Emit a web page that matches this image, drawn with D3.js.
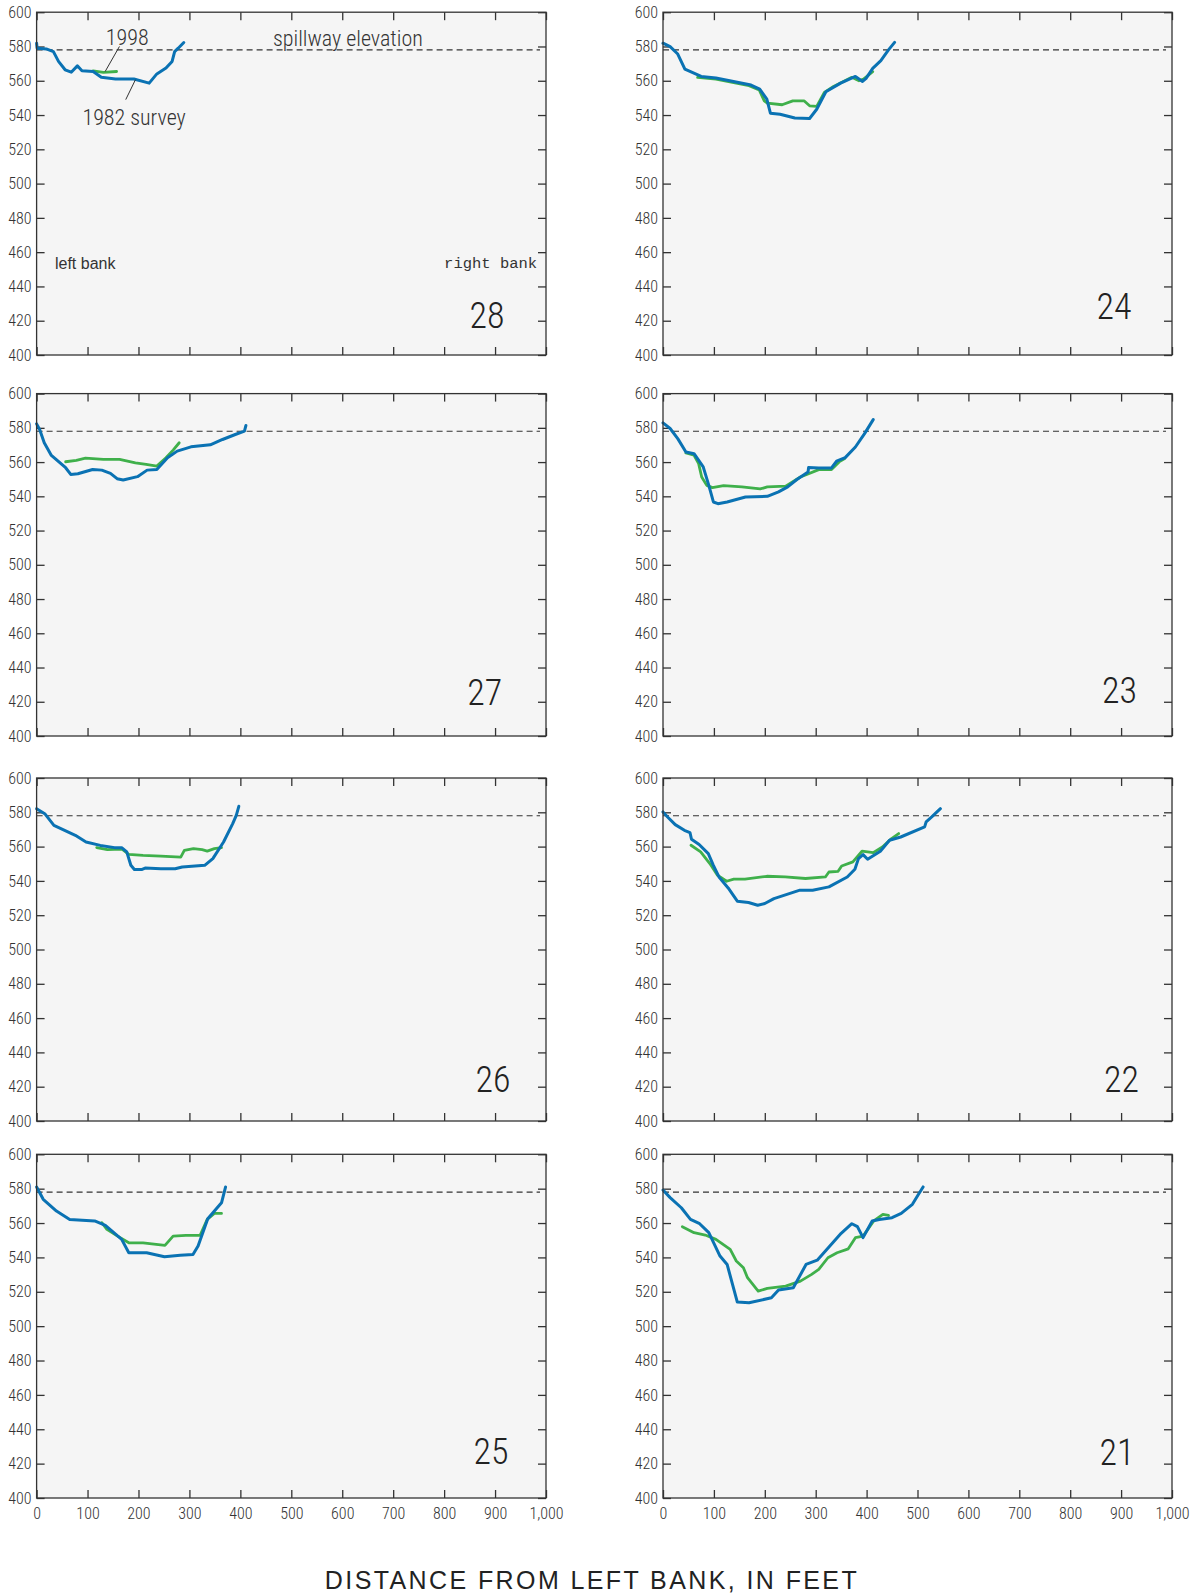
<!DOCTYPE html>
<html>
<head>
<meta charset="utf-8">
<script src="https://cdn.jsdelivr.net/npm/d3@7"></script>
<style>
  html, body { margin: 0; padding: 0; background: #ffffff; }
  svg { display: block; }
</style>
</head>
<body>
<svg id="chart" width="1195" height="1595"></svg>
<script>
// ---------------- DATA ----------------
const sectionIds = ["28", "24", "27", "23", "26", "22", "25", "21"];
const xTicks = [0, 100, 200, 300, 400, 500, 600, 700, 800, 900, 1000];
const yTicks = [400, 420, 440, 460, 480, 500, 520, 540, 560, 580, 600];
const spillwayElevation = 578;
const seriesNames = ["1982 survey", "1998"];

// [distance from left bank (ft), elevation (ft)]
const s28_1982 = [[0,581.9],[1,579],[19,578.6],[33,577],[43,571.3],[56,566.4],[68,565],[80,568.7],[89,565.8],[111,565.4],[127,562],[155,561],[191,561],[221,558.6],[236,564],[254,567.4],[266,571.3],[271,577],[278,579],[289,582.3]];
const s28_1998 = [[111,565.8],[131,564.9],[157,565.4]];

const s24_1982 = [[0,581.9],[14,579.9],[29,575.6],[43,566.8],[75,562.5],[104,561.6],[173,557.5],[190,555.1],[204,549.3],[211,541.1],[230,540.5],[259,538.3],[288,538],[302,543.4],[320,553.6],[349,558.6],[378,562.5],[392,559.6],[399,561.4],[412,567.2],[428,571.7],[443,578],[455,582.4]];
const s24_1998 = [[68,562],[104,561],[169,557.1],[189,554.7],[199,548.3],[205,546.9],[234,546],[255,548.3],[277,548.3],[288,545.4],[302,545],[317,553.2],[335,556.7],[371,562],[385,560],[394,561],[412,565.3]];

const s27_1982 = [[0,582.3],[6,579],[15,571.3],[29,563.9],[57,556.7],[67,552.8],[81,553.2],[110,555.7],[128,555.3],[145,553.4],[158,550.3],[170,549.5],[198,551.5],[217,555.3],[236,555.7],[257,562.5],[276,566.4],[303,568.9],[341,570.1],[365,573.2],[390,576.1],[408,578.1],[411,581.4]];
const s27_1998 = [[57,560.2],[78,561],[96,562.3],[131,561.6],[163,561.6],[194,559.6],[215,558.6],[236,557.7],[254,562.5],[268,567],[280,571.3]];

const s23_1982 = [[0,582.9],[14,579.6],[29,573.7],[45,565.9],[61,564.9],[79,557.2],[90,546.4],[99,536.7],[108,535.7],[126,536.7],[162,539.6],[205,540],[227,542.6],[245,545.5],[263,549.8],[285,554.2],[286,556.8],[306,556.6],[331,556.6],[341,560.5],[358,562.6],[378,568.8],[396,576.6],[413,584.8]];
const s23_1998 = [[45,565.3],[61,564],[70,559.1],[76,551.3],[86,546.4],[97,545.1],[119,546.3],[155,545.5],[191,544.3],[205,545.5],[241,545.9],[270,551.3],[306,555.6],[331,555.6],[346,560.1],[357,562]];

const s26_1982 = [[0,582.1],[16,579.2],[34,572.4],[76,566.6],[97,562.7],[125,560.7],[153,559.4],[167,559.4],[177,556.9],[185,549.1],[192,546.6],[206,546.6],[213,547.5],[244,547.1],[272,547.1],[286,548.1],[330,549.1],[346,553],[367,562.7],[385,573.4],[392,578.2],[397,583.5]];
const s26_1998 = [[118,559.4],[139,558.2],[167,558.6],[181,555.5],[209,554.9],[244,554.5],[283,553.9],[290,557.8],[308,558.8],[325,558.2],[335,557.4],[349,558.8],[363,559.4]];

const s22_1982 = [[0,580.2],[9,577.3],[24,572.8],[42,569.5],[53,568.2],[56,564.3],[71,561.2],[89,555.9],[99,549.1],[110,542.3],[128,535.9],[146,528.2],[168,527.4],[186,525.8],[200,526.8],[218,529.7],[269,534.6],[294,534.6],[326,536.5],[362,542.3],[377,546.8],[384,553],[393,555.3],[402,552.6],[427,557.3],[445,563.7],[467,565.6],[514,571.5],[517,574.4],[528,577.3],[545,582.1]];
const s22_1998 = [[55,560.8],[74,556.9],[92,550.1],[107,543.3],[125,539.8],[139,541],[161,541],[204,542.7],[240,542.3],[280,541.4],[319,542.3],[326,545.2],[344,545.6],[351,548.7],[373,551.1],[391,557.3],[413,556.5],[431,559.8],[449,564.7],[463,567.6]];

const s25_1982 = [[0,581],[13,573.8],[39,567],[65,562.1],[114,561.2],[135,558.6],[167,550.5],[181,542.7],[216,542.7],[251,540.4],[282,541.2],[307,541.7],[317,546.6],[336,562.5],[363,571.8],[371,581]];
const s25_1998 = [[128,560.2],[138,556.3],[159,552.4],[181,548.5],[209,548.5],[252,547],[268,552.4],[293,552.8],[321,552.8],[335,562.1],[349,565.6],[363,565.6]];

const s21_1982 = [[0,579.2],[14,574.8],[36,568.9],[54,562.1],[72,559.6],[90,554.4],[112,540.8],[126,535.9],[146,514],[169,513.6],[213,516.5],[227,521],[256,522.3],[281,535.9],[303,538.4],[350,554],[371,559.6],[382,557.9],[393,551.5],[411,561.2],[425,562.1],[450,563.1],[468,565.6],[490,570.9],[502,576.7],[511,581]];
const s21_1998 = [[38,557.9],[61,554.4],[83,553],[104,550.5],[132,544.7],[144,537.9],[158,534],[166,528.2],[187,520.4],[205,522],[241,523.3],[270,526.2],[292,530.1],[306,533],[324,539.8],[342,542.7],[364,545],[378,551.5],[393,552.4],[414,561.2],[432,565],[443,564.4]];

const survey1982 = {"28": s28_1982, "24": s24_1982, "27": s27_1982, "23": s23_1982, "26": s26_1982, "22": s22_1982, "25": s25_1982, "21": s21_1982};
const survey1998 = {"28": s28_1998, "24": s24_1998, "27": s27_1998, "23": s23_1998, "26": s26_1998, "22": s22_1998, "25": s25_1998, "21": s21_1998};

// ---------------- LAYOUT ----------------
const cols = [{x0: 36.6, x1: 546}, {x0: 663, x1: 1172}];
const rows = [{y0: 12.2, y1: 355}, {y0: 393.6, y1: 736}, {y0: 778, y1: 1121}, {y0: 1154.3, y1: 1498}];
const labelPos = {"28": [884, 416], "24": [886, 421], "27": [880, 418], "23": [897, 419],
                  "26": [896, 417], "22": [901, 417], "25": [892, 420], "21": [892, 419]};

const narrow = "'Liberation Sans Narrow', 'Roboto Condensed', 'DejaVu Sans Condensed', 'Arial Narrow', sans-serif";
const BLUE = "#0a72b3";
const GREEN = "#3fb04b";
const INK = "#333333";

const svg = d3.select("#chart");

sectionIds.forEach((id, i) => {
  const c = cols[i % 2], r = rows[Math.floor(i / 2)];
  const isBottom = Math.floor(i / 2) === rows.length - 1;
  const x = d3.scaleLinear().domain([0, 1000]).range([c.x0, c.x1]);
  const y = d3.scaleLinear().domain([400, 600]).range([r.y1, r.y0]);
  const g = svg.append("g");

  g.append("rect").attr("x", c.x0).attr("y", r.y0)
    .attr("width", c.x1 - c.x0).attr("height", r.y1 - r.y0)
    .attr("fill", "#f5f5f5");

  // axes with inward ticks on all sides
  const axL = g.append("g").attr("transform", `translate(${c.x0},0)`)
    .call(d3.axisLeft(y).tickValues(yTicks).tickSize(-8).tickPadding(5).tickFormat(d3.format("d")));
  const axR = g.append("g").attr("transform", `translate(${c.x1},0)`)
    .call(d3.axisRight(y).tickValues(yTicks).tickSize(-8).tickFormat(""));
  const axT = g.append("g").attr("transform", `translate(0,${r.y0})`)
    .call(d3.axisTop(x).tickValues(xTicks).tickSize(-8).tickFormat(""));
  const axB = g.append("g").attr("transform", `translate(0,${r.y1})`)
    .call(d3.axisBottom(x).tickValues(xTicks).tickSize(-8).tickPadding(10)
      .tickFormat(isBottom ? d3.format(",") : ""));
  [axL, axR, axT, axB].forEach(a => {
    a.select(".domain").remove();
    a.selectAll(".tick line").attr("stroke", INK).attr("stroke-width", 1.3);
    a.selectAll(".tick text").attr("fill", INK).style("font-family", narrow)
      .style("font-size", "16px").style("font-weight", "300");
  });

  // spillway elevation dashed line
  g.append("line")
    .attr("x1", x(0)).attr("x2", x(1000) - 6)
    .attr("y1", y(spillwayElevation)).attr("y2", y(spillwayElevation))
    .attr("stroke", INK).attr("stroke-width", 1.1).attr("stroke-dasharray", "6,4");

  const line = d3.line().x(d => x(d[0])).y(d => y(d[1]));
  g.append("path").datum(survey1998[id]).attr("d", line)
    .attr("fill", "none").attr("stroke", GREEN).attr("stroke-width", 2.8)
    .attr("stroke-linejoin", "round").attr("stroke-linecap", "round");
  g.append("path").datum(survey1982[id]).attr("d", line)
    .attr("fill", "none").attr("stroke", BLUE).attr("stroke-width", 3)
    .attr("stroke-linejoin", "round").attr("stroke-linecap", "round");

  // border
  g.append("rect").attr("x", c.x0).attr("y", r.y0)
    .attr("width", c.x1 - c.x0).attr("height", r.y1 - r.y0)
    .attr("fill", "none").attr("stroke", INK).attr("stroke-width", 1.3);

  // section number
  const lp = labelPos[id];
  g.append("text").attr("x", x(lp[0])).attr("y", y(lp[1]))
    .attr("text-anchor", "middle").attr("fill", "#222")
    .style("font-family", narrow).style("font-size", "36px").style("font-weight", "300").text(id);

  if (id === "28") {
    const ann = (t, dx, dy, fam, size, anchor, weight) => g.append("text")
      .attr("x", x(dx)).attr("y", y(dy)).attr("text-anchor", anchor || "start")
      .attr("fill", INK).style("font-family", fam).style("font-size", size)
      .style("font-weight", weight || "400").text(t);
    ann(seriesNames[1], 178, 581, narrow, "22px", "middle", "300");
    ann(seriesNames[0], 90, 534.4, narrow, "22px", "start", "300");
    ann("spillway elevation", 464, 580, narrow, "22px", "start", "300");
    ann("left bank", 36, 450.3, "'Liberation Sans', Arial, sans-serif", "16px");
    ann("right bank", 800, 451, "'Liberation Mono', 'DejaVu Sans Mono', monospace", "15.5px");
    g.append("line").attr("x1", x(162.6)).attr("y1", y(580)).attr("x2", x(134.6)).attr("y2", y(565.4))
      .attr("stroke", INK).attr("stroke-width", 1);
    g.append("line").attr("x1", x(175)).attr("y1", y(549)).attr("x2", x(194)).attr("y2", y(560.6))
      .attr("stroke", INK).attr("stroke-width", 1);
  }
});

svg.append("text").attr("x", 592).attr("y", 1589).attr("text-anchor", "middle")
  .attr("fill", "#222").style("font-family", "'Liberation Sans', Arial, sans-serif")
  .style("font-size", "25px").style("letter-spacing", "2.4px")
  .text("DISTANCE FROM LEFT BANK, IN FEET");
</script>
</body>
</html>
